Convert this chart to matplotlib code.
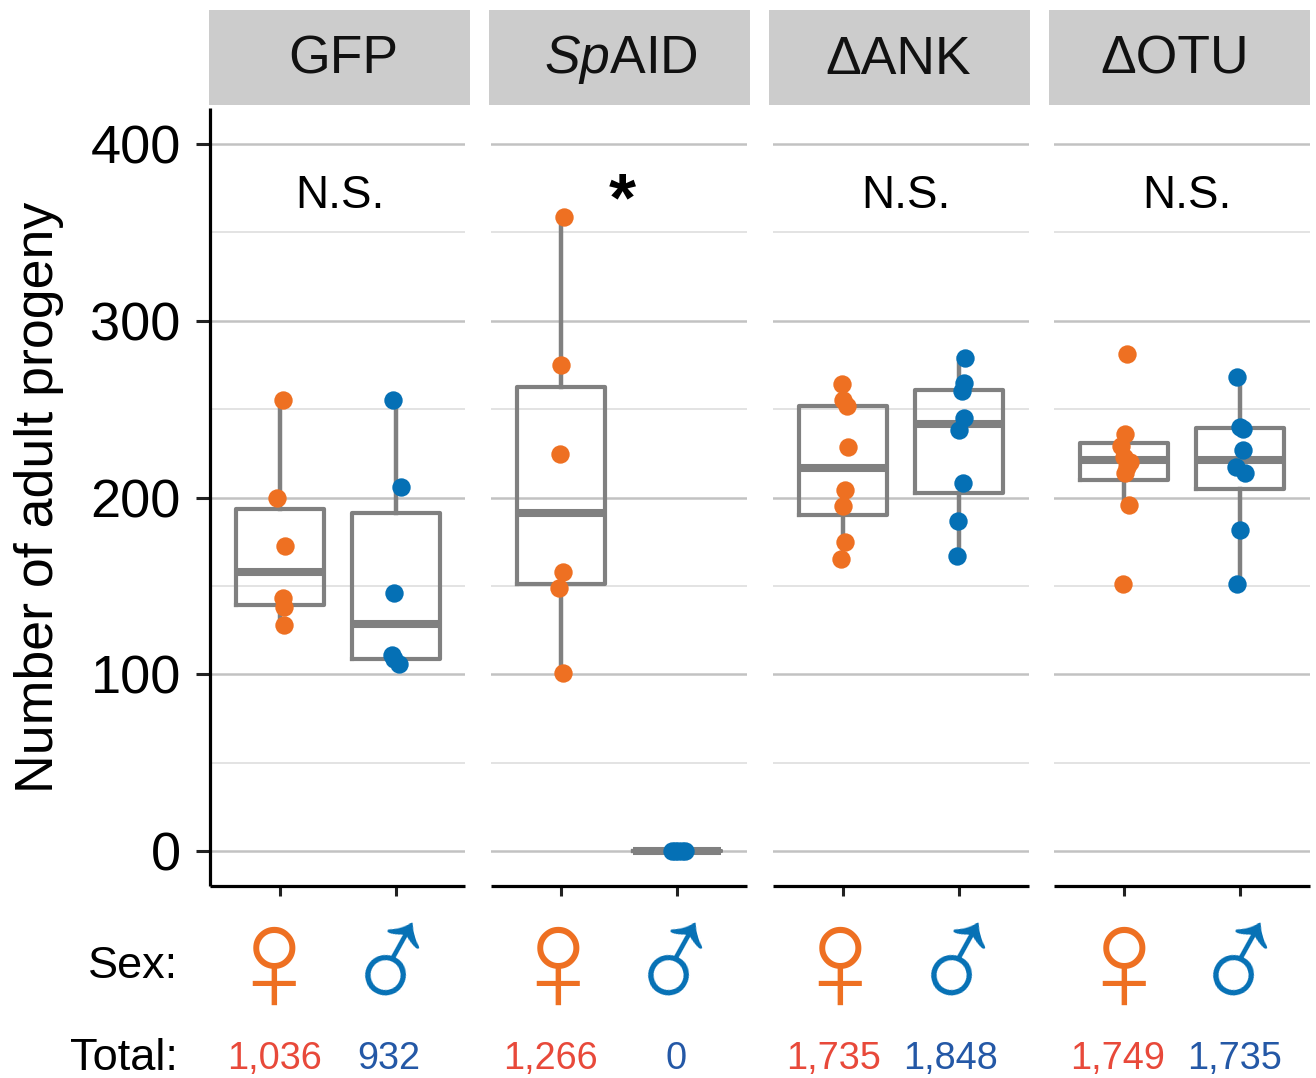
import matplotlib
matplotlib.use('Agg')
import matplotlib.pyplot as plt

plt.rcParams['font.family'] = ['Liberation Sans', 'DejaVu Sans']
plt.rcParams['mathtext.fontset'] = 'custom'
plt.rcParams['mathtext.it'] = 'Liberation Sans:italic'
plt.rcParams['mathtext.rm'] = 'Liberation Sans'

W, H = 1316, 1078

strains = ['GFP', r'$\mathit{Sp}$AID', '\u0394ANK', '\u0394OTU']
signif = ['N.S.', '*', 'N.S.', 'N.S.']
totals_f = ['1,036', '1,266', '1,735', '1,749']
totals_m = ['932', '0', '1,848', '1,735']

# counts per replicate, female then male for every strain
values_f = [
    [255, 200, 172.5, 143, 138, 128],
    [359, 275, 224.5, 158, 149, 101],
    [264, 255, 252, 228.5, 204, 195, 175, 165],
    [281, 236, 229, 223, 220, 217, 214, 196, 151],
]
values_m = [
    [255, 206, 146, 111, 108.5, 106],
    [0, 0, 0, 0, 0],
    [279, 265, 260, 245, 238, 208, 187, 167],
    [268, 240, 239, 227, 217, 214, 181.5, 151],
]
# horizontal jitter of the points, in pixels
jitter_f = [
    [3, -3, 5, 3, 4, 4],
    [3, 0, -1, 2, -2, 2],
    [-1, 0, 4, 5, 2, 0, 2, -2],
    [3, 1, -3, 0, 6, 3, 1, 5, -1],
]
jitter_m = [
    [-3, 5, -2, -4, -2, 3],
    [-5, -2, 1, 5, 8],
    [6, 5, 3, 5, 0, 4, -1, -2],
    [-3, 0, 3, 3, -4, 5, 0, -3],
]
# q1, median, q3, whisker low, whisker high
boxes_f = [
    (139, 158, 193.5, 128, 255),
    (151, 191, 262.5, 101, 359),
    (190, 216.7, 252, 165, 264),
    (210, 221, 231, 196, 236),
]
boxes_m = [
    (108.6, 128.5, 191, 106, 255),
    (0, 0, 0, 0, 0),
    (202.5, 241.5, 261, 167, 279),
    (205, 221.5, 239.5, 151, 268),
]

ORANGE = '#EE7022'
BLUE = '#0570B5'
GREY = '#808080'
RED_TXT = '#E8493A'
BLUE_TXT = '#2458A6'

panel_left = [210, 491, 773, 1054]
panel_right = [465, 747, 1029, 1310]
strip_left = [209, 489, 769, 1049]
strip_right = [470, 750, 1030, 1310]
strip_x = [343, 621, 898, 1175]
signif_x = [1.52, 1.53, 1.54, 1.54]
sex_x_f = [274, 557, 840, 1124]
sex_x_m = [394, 677, 960, 1242]
total_x_f = [274, 550, 834, 1118]
total_x_m = [389, 676, 951, 1235]


def px_axes(fig, x0, x1, y0, y1):
    # y0 is the top edge, in image pixels
    return fig.add_axes([x0 / W, 1 - y1 / H, (x1 - x0) / W, (y1 - y0) / H])


def to_box(stats):
    q1, med, q3, lo, hi = stats
    return dict(q1=q1, med=med, q3=q3, whislo=lo, whishi=hi, fliers=[])


fig = plt.figure(figsize=(W / 100, H / 100), dpi=100)

for i in range(4):
    ax = px_axes(fig, panel_left[i], panel_right[i], 108, 886)
    ax.set_xlim(0.397, 0.397 + (panel_right[i] - panel_left[i]) / 116)
    ax.set_ylim(-19.8, 420.4)
    ax.set_axisbelow(True)
    ax.set_yticks([0, 100, 200, 300, 400])
    ax.set_yticks([50, 150, 250, 350], minor=True)
    ax.grid(axis='y', which='major', color='#c2c2c2', lw=1.8)
    ax.grid(axis='y', which='minor', color='#dedede', lw=1.2)
    ax.tick_params(axis='y', which='minor', length=0)
    ax.tick_params(axis='x', length=7, width=2.2, color='#222222')
    ax.tick_params(axis='y', which='major', length=10, width=2.2, color='#222222',
                   labelsize=39, pad=11)
    for side in ['top', 'right']:
        ax.spines[side].set_visible(False)
    ax.spines['bottom'].set_linewidth(2.3)
    ax.spines['left'].set_linewidth(2.3)
    ax.spines['bottom'].set_capstyle('butt')
    ax.spines['left'].set_capstyle('butt')
    if i > 0:
        ax.spines['left'].set_visible(False)
        ax.tick_params(axis='y', which='both', left=False, labelleft=False)

    ax.bxp([to_box(boxes_f[i]), to_box(boxes_m[i])], positions=[1, 2], widths=0.76,
           showcaps=False, showfliers=False,
           boxprops=dict(color=GREY, lw=3.0),
           whiskerprops=dict(color=GREY, lw=3.2),
           medianprops=dict(color=GREY, lw=5.8, solid_capstyle='butt'))
    ax.set_xticks([1, 2])
    ax.set_xticklabels([])

    xs_f = [1 + j / 116 for j in jitter_f[i]]
    xs_m = [2 + j / 116 for j in jitter_m[i]]
    ax.scatter(xs_f, values_f[i], s=175, color=ORANGE, lw=0, zorder=5)
    ax.scatter(xs_m, values_m[i], s=175, color=BLUE, lw=0, zorder=5)

    if signif[i] == '*':
        ax.text(signif_x[i], 367, '*', ha='center', va='center', fontsize=50, fontweight='bold')
    else:
        ax.text(signif_x[i], 370.5, signif[i], ha='center', va='center', fontsize=33)

    strip = px_axes(fig, strip_left[i], strip_right[i], 10, 105)
    strip.set_facecolor('#cccccc')
    strip.set_xticks([])
    strip.set_yticks([])
    for s in strip.spines.values():
        s.set_visible(False)
    fig.text(strip_x[i] / W, 1 - 60 / H, strains[i], ha='center', va='center',
             fontsize=38.5, color='#111111', zorder=5)

    fig.text(sex_x_f[i] / W, 1 - 972 / H, '\u2640', color=ORANGE,
             fontsize=108, ha='center', va='center')
    fig.text(sex_x_m[i] / W, 1 - 966 / H, '\u2642', color=BLUE,
             fontsize=104, rotation=16, ha='center', va='center')
    fig.text(total_x_f[i] / W, 1 - 1059 / H, totals_f[i], color=RED_TXT, fontsize=27.3,
             ha='center', va='center')
    fig.text(total_x_m[i] / W, 1 - 1059 / H, totals_m[i], color=BLUE_TXT, fontsize=27.3,
             ha='center', va='center')

fig.text(39 / W, 1 - 497 / H, 'Number of adult progeny', rotation=90, fontsize=38.7,
         ha='center', va='center')
fig.text(178 / W, 1 - 966 / H, 'Sex:', fontsize=32.4, ha='right', va='center')
fig.text(178 / W, 1 - 1058 / H, 'Total:', fontsize=32.6, ha='right', va='center')

fig.savefig('out.png', dpi=100)
